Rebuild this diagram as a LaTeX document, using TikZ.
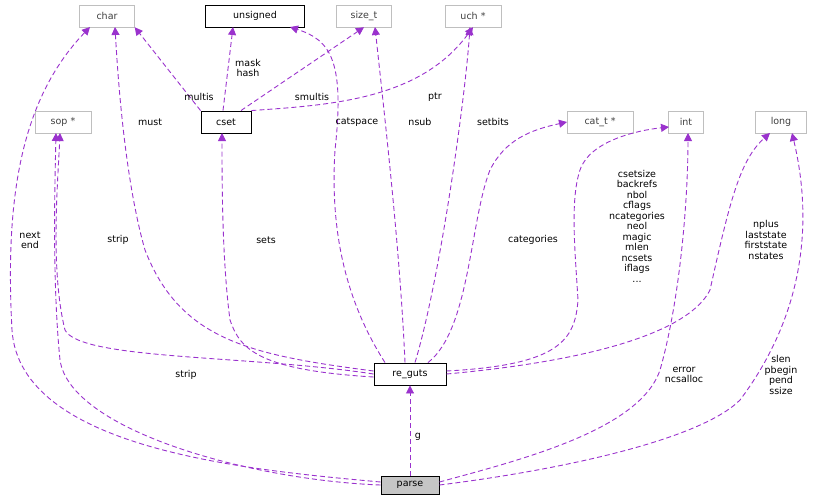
\documentclass[tikz,border=0pt]{standalone}
\usepackage{fontspec}
\setmainfont{DejaVu Sans}
\usetikzlibrary{arrows.meta}
\definecolor{edge}{HTML}{9A32CD}
\definecolor{gb}{HTML}{BFBFBF}
\tikzset{
 cls/.style={draw=gb,fill=white,inner sep=0pt,minimum height=22pt,font=\fontsize{9.5}{11}\selectfont,text=black!75},
 main/.style={draw=black,line width=0.9pt,fill=white,inner sep=0pt,minimum height=22pt,font=\fontsize{9.5}{11}\selectfont},
 dep/.style={draw=edge,line width=0.9pt,dash pattern=on 5pt off 3pt,-{Triangle[length=8pt,width=8pt,fill=edge]}},
 lab/.style={font=\fontsize{9.5}{10.5}\selectfont,align=center,inner sep=0pt}
}
\begin{document}
\begin{tikzpicture}[x=1pt,y=-1pt]
\useasboundingbox (0,0) rectangle (835,501);
\node[cls,minimum width=55pt] (char) at (107,16) {char};
\node[main,minimum width=99pt] (uns) at (255,16) {unsigned};
\node[cls,minimum width=55pt] (size) at (364,16) {size\_t};
\node[cls,minimum width=56pt] (uch) at (473,16) {uch *};
\node[main,minimum width=50pt] (cset) at (226,122) {cset};
\node[cls,minimum width=56pt] (sop) at (63,122) {sop *};
\node[cls,minimum width=66pt] (cat) at (600,122) {cat\_t *};
\node[cls,minimum width=35pt] (int) at (686,122) {int};
\node[cls,minimum width=51pt] (long) at (781,122) {long};
\node[main,minimum width=72pt] (rg) at (410,374) {re\_guts};
\node[main,fill=gb!90!white,minimum width=58pt,minimum height=18pt] (parse) at (410,485) {parse};
% cset edges
\draw[dep] (cset.north west) -- (char.south east) ;
\draw[dep] (cset.north) ++(-3,0) -- (233,27);
\draw[dep] (cset.north) ++(15,0) -- (size.south);
\draw[dep] (cset.north east) .. controls (330,105) and (420,100) .. (uch.south);
\node[lab] (l1) at (199,97) {multis};
\node[lab] (l2) at (248,68) {mask\\hash};
\node[lab] (l3) at (312,97) {smultis};
\node[lab] (l4) at (435,97) {ptr};
% re_guts edges
\draw[dep] (rg.west) ++(0,-3) .. controls (250,355) and (180,340) .. (145,250) .. controls (125,180) and (118,80) .. (115,27);
\draw[dep] (rg.north) ++(-25,0) .. controls (345,300) and (330,230) .. (335,150) .. controls (345,60) and (330,40) .. (290,27);
\draw[dep] (rg.north) ++(-5,0) .. controls (400,250) and (385,120) .. (375,27);
\draw[dep] (rg.north) ++(5,0) .. controls (440,280) and (465,100) .. (470,27);
\draw[dep] (rg.west) ++(0,0) .. controls (250,355) and (80,360) .. (65,330) .. controls (50,270) and (58,180) .. (60,133);
\draw[dep] (rg.west) ++(0,3) .. controls (260,370) and (240,350) .. (230,320) .. controls (222,260) and (222,180) .. (222,133);
\draw[dep] (rg.north) ++(18,0) .. controls (470,330) and (470,220) .. (490,170) .. controls (505,140) and (530,130) .. (567,122);
\draw[dep] (rg.east) ++(0,-3) .. controls (560,365) and (575,340) .. (578,300) .. controls (575,250) and (570,200) .. (580,170) .. controls (590,140) and (640,130) .. (669,127);
\draw[dep] (rg.east) .. controls (600,360) and (690,330) .. (710,290) .. controls (730,200) and (740,160) .. (770,133);
\node[lab] (m1) at (150,122) {must};
\node[lab] (m2) at (357,122) {catspace};
\node[lab] (m3) at (420,122) {nsub};
\node[lab] (m4) at (493,122) {setbits};
\node[lab] (m5) at (118,240) {strip};
\node[lab] (m6) at (266,240) {sets};
\node[lab] (m7) at (533,240) {categories};
\node[lab] (m8) at (637,226) {csetsize\\backrefs\\nbol\\cflags\\ncategories\\neol\\magic\\mlen\\ncsets\\iflags\\...};
\node[lab] (m9) at (766,240) {nplus\\laststate\\firststate\\nstates};
% parse edges
\draw[dep] (parse.north) -- (rg.south);
\node[lab] (g) at (418,437) {g};
\draw[dep] (parse.west) ++(0,-3) .. controls (250,470) and (20,450) .. (12,330) .. controls (5,200) and (20,100) .. (90,27);
\draw[dep] (parse.west) .. controls (250,480) and (70,430) .. (60,360) .. controls (52,280) and (55,180) .. (56,133);
\draw[dep] (parse.east) ++(0,-3) .. controls (520,460) and (640,430) .. (660,370) .. controls (680,300) and (688,200) .. (688,133);
\draw[dep] (parse.east) .. controls (560,470) and (700,440) .. (740,400) .. controls (800,320) and (815,230) .. (792,133);
\node[lab] (n1) at (30,240) {next\\end};
\node[lab] (n2) at (186,375) {strip};
\node[lab] (n3) at (684,375) {error\\ncsalloc};
\node[lab] (n4) at (781,375) {slen\\pbegin\\pend\\ssize};
\end{tikzpicture}
\end{document}
